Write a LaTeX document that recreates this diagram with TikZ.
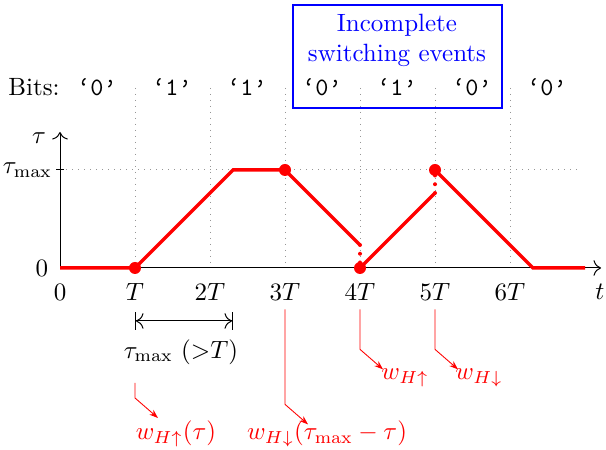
\documentclass[tikz,border=0pt]{standalone}
\usetikzlibrary{arrows.meta}
\tikzset{every picture/.style={line width=0.4pt}}

\begin{document}
\begin{tikzpicture}[x=0.4pt,y=0.4pt,yscale=-1,xscale=1,
  wave/.style={color={rgb, 255:red, 255; green, 0; blue, 0 }, line width=1.4pt},
  jump/.style={color={rgb, 255:red, 255; green, 0; blue, 0 }, line width=1.6pt, line cap=round, dash pattern=on 0pt off 3.5pt},
  gridline/.style={color={rgb, 255:red, 150; green, 150; blue, 150 }, dotted},
  note/.style={color={rgb, 255:red, 255; green, 0; blue, 0 }, line width=0.35pt, -{Stealth[length=3.5pt,width=2.5pt]}},
  bit/.style={anchor=base, font=\ttfamily}
]
\useasboundingbox (0,0) rectangle (606,450);

%Grid lines
\foreach \x in {135,210,285,360,435,510}
  \draw [gridline] (\x,88) -- (\x,268) ;
\draw [gridline] (60,170) -- (580,170) ;

% Bits row
\node [anchor=base] (bits) at (34,96) {Bits:};
\foreach \b [count=\i] in {0,1,1,0,1,0,0}
  \node [bit] (b\i) at (22+75*\i,96) {\textquoteleft\b\textquoteright};

%Shape: Rectangle
\draw [color={rgb, 255:red, 0; green, 0; blue, 255 }, line width=0.9pt] (293,5) rectangle (502,108) ;
% Text Node
\node [align=center, text={rgb, 255:red, 0; green, 0; blue, 255 }] (incomplete) at (397,40) {Incomplete\\switching events};

%Axes
\coordinate (O) at (60,268) ;
\coordinate (xend) at (601,268) ;
\coordinate (yend) at (60,132) ;
\draw [-{To[length=3pt]}] (O) -- (xend) ;
\draw [-{To[length=3pt]}] (O) -- (yend) ;
\draw (56,170) -- (64,170) ;

% Text Node
\node (tau) at (39,138) {$\tau$};
\node [anchor=east, inner sep=1pt] (taumax) at (55,170) {$\tau_{\max}$};
\node [anchor=east] (zero) at (57,268) {$0$};
\node (x0) at (60,292) {$0$};
\node (x1) at (135,292) {$T$};
\node (x2) at (210,292) {$2T$};
\node (x3) at (285,292) {$3T$};
\node (x4) at (360,292) {$4T$};
\node (x5) at (435,292) {$5T$};
\node (x6) at (510,292) {$6T$};
\node (t) at (600,292) {$t$};

%Red wave
\coordinate (A) at (135,268) ;
\coordinate (B) at (285,170) ;
\coordinate (C) at (360,268) ;
\coordinate (D) at (435,170) ;
\draw [wave] (O) -- (A) -- (233,170) -- (B) -- (360,245) ;
\draw [wave] (C) -- (435,193) ;
\draw [wave] (D) -- (533,268) -- (585,268) ;
\draw [jump] (360,245) -- (C) ;
\draw [jump] (435,193) -- (D) ;
\foreach \p in {A,B,C,D}
  \fill [color={rgb, 255:red, 255; green, 0; blue, 0 }] (\p) circle [radius=2.4pt] ;

%Dimension
\coordinate (dimL) at (135,321) ;
\coordinate (dimR) at (233,321) ;
\draw [{Bar[width=7pt]To[length=3pt]}-{To[length=3pt]Bar[width=7pt]}] (dimL) -- (dimR) ;
\node (dim) at (181,352) {$\tau_{\max}$ $({>}T)$};

% Text Node
\node [text={rgb, 255:red, 255; green, 0; blue, 0 }] (wup1) at (176,434) {$w_{H\uparrow}(\tau)$};
\node [text={rgb, 255:red, 255; green, 0; blue, 0 }] (wdn1) at (327,434) {$w_{H\downarrow}(\tau_{\max}-\tau)$};
\node [text={rgb, 255:red, 255; green, 0; blue, 0 }] (wup2) at (405,378) {$w_{H\uparrow}$};
\node [text={rgb, 255:red, 255; green, 0; blue, 0 }] (wdn2) at (479,378) {$w_{H\downarrow}$};

%Annotation arrows
\coordinate (s1) at (135,383) ;
\draw [note] (s1) -- ++(0,15) -- ++(23,20) ;
\draw [note] (x3.south) -- ++(0,95) -- ++(23,20) ;
\draw [note] (x4.south) -- ++(0,40) -- ++(23,20) ;
\draw [note] (x5.south) -- ++(0,40) -- ++(23,20) ;

\end{tikzpicture}
\end{document}
